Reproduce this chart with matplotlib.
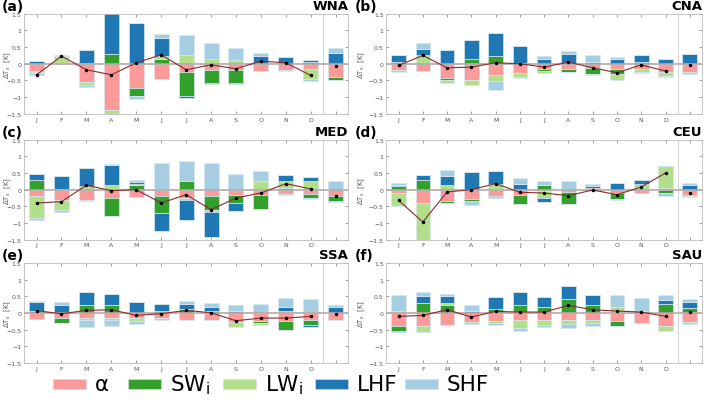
import numpy as np
import matplotlib
matplotlib.use('Agg')
import matplotlib.pyplot as plt
from matplotlib.patches import Rectangle

months = ['J', 'F', 'M', 'A', 'M', 'J', 'J', 'A', 'S', 'O', 'N', 'D', '']
components = ['α', 'SW$_\\mathregular{i}$', 'LW$_\\mathregular{i}$', 'LHF', 'SHF']
colors = ['#fb9a99', '#33a02c', '#b2df8a', '#1f78b4', '#a6cee3']

# 12 months + annual mean, per component
wna = {
    'alpha': [-0.22, 0.00, -0.55, -1.38, -0.72, -0.45, -0.25, -0.20, -0.20, -0.23, -0.20, -0.15, -0.40],
    'sw':    [-0.04, 0.02, 0.02, 0.30, -0.24, 0.15, -0.72, -0.37, -0.37, 0.00, 0.00, 0.05, -0.10],
    'lw':    [-0.03, 0.17, -0.10, -0.15, 0.00, 0.07, 0.27, 0.15, 0.10, 0.00, 0.00, -0.30, 0.00],
    'lhf':   [0.08, 0.05, 0.38, 1.25, 1.22, 0.55, -0.07, -0.03, -0.03, 0.23, 0.20, 0.05, 0.33],
    'shf':   [-0.04, 0.03, -0.05, 0.00, -0.09, 0.11, 0.59, 0.47, 0.38, 0.10, -0.03, -0.07, 0.14],
}
wna_total = [-0.33, 0.23, -0.18, -0.33, 0.03, 0.27, -0.18, -0.03, -0.15, 0.08, 0.03, -0.35, -0.07]

cna = {
    'alpha': [-0.20, -0.23, -0.42, -0.50, -0.35, -0.27, -0.17, -0.17, -0.12, -0.15, -0.15, -0.25, -0.25],
    'sw':    [0.05, 0.00, -0.06, 0.13, 0.23, 0.00, -0.05, -0.08, -0.18, -0.15, 0.05, 0.00, 0.00],
    'lw':    [-0.05, 0.25, -0.09, -0.13, -0.18, -0.13, -0.05, 0.00, -0.03, -0.18, -0.10, -0.13, -0.05],
    'lhf':   [0.20, 0.18, 0.40, 0.57, 0.70, 0.53, 0.15, 0.28, 0.06, 0.15, 0.22, 0.15, 0.30],
    'shf':   [0.00, 0.20, 0.00, 0.00, -0.27, -0.03, 0.08, 0.10, 0.21, 0.05, -0.03, -0.02, 0.00],
}
cna_total = [-0.05, 0.25, -0.12, -0.10, 0.03, 0.00, -0.10, 0.05, -0.12, -0.27, -0.03, -0.22, -0.05]

med = {
    'alpha': [-0.18, -0.30, -0.32, -0.25, -0.22, -0.20, -0.25, -0.18, -0.17, -0.15, -0.12, -0.13, -0.20],
    'sw':    [0.30, 0.03, 0.00, -0.53, 0.13, -0.50, 0.25, -0.44, -0.23, -0.43, 0.05, -0.12, -0.15],
    'lw':    [-0.67, -0.32, 0.12, 0.15, 0.04, 0.03, -0.05, -0.06, 0.03, 0.25, 0.20, 0.25, 0.00],
    'lhf':   [0.18, 0.37, 0.53, 0.58, 0.07, -0.55, -0.62, -0.74, -0.23, 0.00, 0.18, 0.12, -0.02],
    'shf':   [-0.05, -0.06, -0.03, 0.04, 0.06, 0.77, 0.62, 0.80, 0.44, 0.32, -0.03, -0.03, 0.25],
}
med_total = [-0.40, -0.36, 0.13, -0.03, 0.00, -0.40, -0.15, -0.60, -0.25, -0.10, 0.18, 0.02, -0.18]

ceu = {
    'alpha': [-0.10, -0.40, -0.35, -0.28, -0.18, -0.15, -0.05, -0.08, -0.05, -0.10, -0.10, 0.05, -0.17],
    'sw':    [0.10, 0.30, -0.05, -0.07, 0.03, -0.28, 0.15, -0.35, 0.03, -0.18, 0.00, -0.10, -0.03],
    'lw':    [-0.40, -1.20, 0.13, 0.00, 0.15, 0.00, -0.20, 0.00, 0.02, 0.00, 0.18, 0.62, -0.03],
    'lhf':   [0.05, 0.15, 0.27, 0.53, 0.38, 0.18, -0.12, 0.03, 0.05, 0.20, 0.12, 0.03, 0.15],
    'shf':   [0.05, 0.00, 0.20, -0.12, -0.07, 0.17, 0.12, 0.24, 0.07, -0.04, 0.00, -0.08, 0.05],
}
ceu_total = [-0.32, -0.97, -0.07, 0.00, 0.18, -0.08, -0.10, -0.18, -0.01, -0.15, 0.08, 0.50, -0.10]

ssa = {
    'alpha': [-0.18, -0.15, -0.15, -0.15, -0.15, -0.15, -0.20, -0.22, -0.27, -0.25, -0.25, -0.22, -0.22],
    'sw':    [0.07, -0.15, 0.25, 0.25, 0.00, 0.07, 0.12, 0.05, 0.00, -0.05, -0.27, -0.13, 0.00],
    'lw':    [0.00, 0.00, -0.05, -0.07, -0.10, -0.07, 0.00, 0.00, -0.15, -0.05, 0.05, 0.02, 0.00],
    'lhf':   [0.26, 0.25, 0.37, 0.33, 0.32, 0.20, 0.16, 0.12, 0.05, 0.00, 0.12, -0.07, 0.17],
    'shf':   [0.04, 0.08, -0.22, -0.18, -0.07, 0.00, 0.07, 0.13, 0.20, 0.28, 0.28, 0.40, 0.08],
}
ssa_total = [0.07, -0.02, 0.08, 0.10, -0.07, -0.02, 0.08, 0.01, -0.23, -0.15, -0.15, -0.10, -0.03]

sau = {
    'alpha': [-0.40, -0.40, -0.37, -0.28, -0.25, -0.20, -0.20, -0.20, -0.22, -0.23, -0.30, -0.40, -0.28],
    'sw':    [-0.15, 0.30, 0.25, 0.00, 0.12, 0.25, 0.17, 0.42, 0.25, -0.17, 0.00, 0.28, 0.15],
    'lw':    [0.05, -0.17, 0.05, -0.05, -0.05, -0.25, -0.17, -0.12, -0.08, 0.18, 0.00, -0.15, -0.05],
    'lhf':   [-0.02, 0.22, 0.20, 0.05, 0.35, 0.38, 0.31, 0.40, 0.28, 0.00, 0.07, 0.10, 0.18],
    'shf':   [0.50, 0.11, 0.08, 0.20, -0.07, -0.10, -0.05, -0.13, -0.08, 0.37, 0.38, 0.15, 0.10],
}
sau_total = [-0.10, -0.07, 0.10, -0.12, 0.05, 0.03, 0.03, 0.23, 0.10, 0.06, 0.03, -0.10, 0.02]

panels = [
    ('(a)', 'WNA', wna, wna_total),
    ('(b)', 'CNA', cna, cna_total),
    ('(c)', 'MED', med, med_total),
    ('(d)', 'CEU', ceu, ceu_total),
    ('(e)', 'SSA', ssa, ssa_total),
    ('(f)', 'SAU', sau, sau_total),
]

W, H = 709, 410
fig = plt.figure(figsize=(W / 100, H / 100), dpi=100)

lefts = [0.034, 0.545]
widths = [0.457, 0.445]
bottoms = [0.720, 0.413, 0.112]
height = 0.244
label_x = [2 / W, 355 / W]
ylab_x = [-0.035, -0.06]

x = np.arange(1, 14)
for i, (tag, name, comp, total) in enumerate(panels):
    row, col = i // 2, i % 2
    ax = fig.add_axes([lefts[col], bottoms[row], widths[col], height])
    pos_base = np.zeros(13)
    neg_base = np.zeros(13)
    for key, c in zip(['alpha', 'sw', 'lw', 'lhf', 'shf'], colors):
        v = np.array(comp[key])
        pos = np.where(v > 0, v, 0)
        neg = np.where(v < 0, v, 0)
        ax.bar(x, pos, 0.6, bottom=pos_base, color=c, edgecolor='#d8e8f0', linewidth=0.5, zorder=2)
        ax.bar(x, neg, 0.6, bottom=neg_base, color=c, edgecolor='#d8e8f0', linewidth=0.5, zorder=2)
        pos_base += pos
        neg_base += neg
    ax.axhline(0, color='#b8a8a8', lw=1.2, zorder=3)
    ax.plot(x[:12], total[:12], color='#8b2a2a', lw=0.8, zorder=4)
    ax.plot(x, total, 'o', color='black', ms=1.5, zorder=5)
    ax.axvline(12.5, color='#cccccc', lw=0.6, zorder=1)
    ax.set_xlim(0.5, 13.5)
    ax.set_ylim(-1.5, 1.5)
    ax.set_xticks(x)
    ax.set_xticklabels(months)
    ax.set_yticks([-1.5, -1, -0.5, 0, 0.5, 1, 1.5])
    ax.set_yticklabels(['\u22121.5', '\u22121', '\u22120.5', '0', '0.5', '1', '1.5'])
    ax.tick_params(direction='in', length=2, width=0.4, labelsize=4.5, colors='#555555',
                   top=True, right=True, pad=2)
    for s in ax.spines.values():
        s.set_color('#bbbbbb')
        s.set_linewidth(0.6)
    ax.set_ylabel('$\\Delta$T$_\\mathregular{s}$  [K]', fontsize=5, color='#555555')
    ax.yaxis.set_label_coords(ylab_x[col], 0.5)
    top = bottoms[row] + height
    fig.text(label_x[col], top + 0.002, tag, fontsize=10, fontweight='bold',
             ha='left', va='bottom')
    ax.text(1.0, 1.02, name, transform=ax.transAxes, fontsize=9.5, fontweight='bold',
            ha='right', va='bottom')

# legend row drawn by hand to match the spacing of the original
leg_x = [53, 128, 223, 315, 405]
leg_y = 385
for lx, c, lab in zip(leg_x, colors, components):
    fig.add_artist(Rectangle((lx / W, 1 - (leg_y + 5) / H), 33 / W, 10 / H,
                             transform=fig.transFigure, facecolor=c,
                             edgecolor='#dddddd', linewidth=0.5))
    fig.text((lx + 42) / W, 1 - leg_y / H, lab, fontsize=15.5, ha='left', va='center')

plt.savefig('out.png', dpi=100)
plt.close()
